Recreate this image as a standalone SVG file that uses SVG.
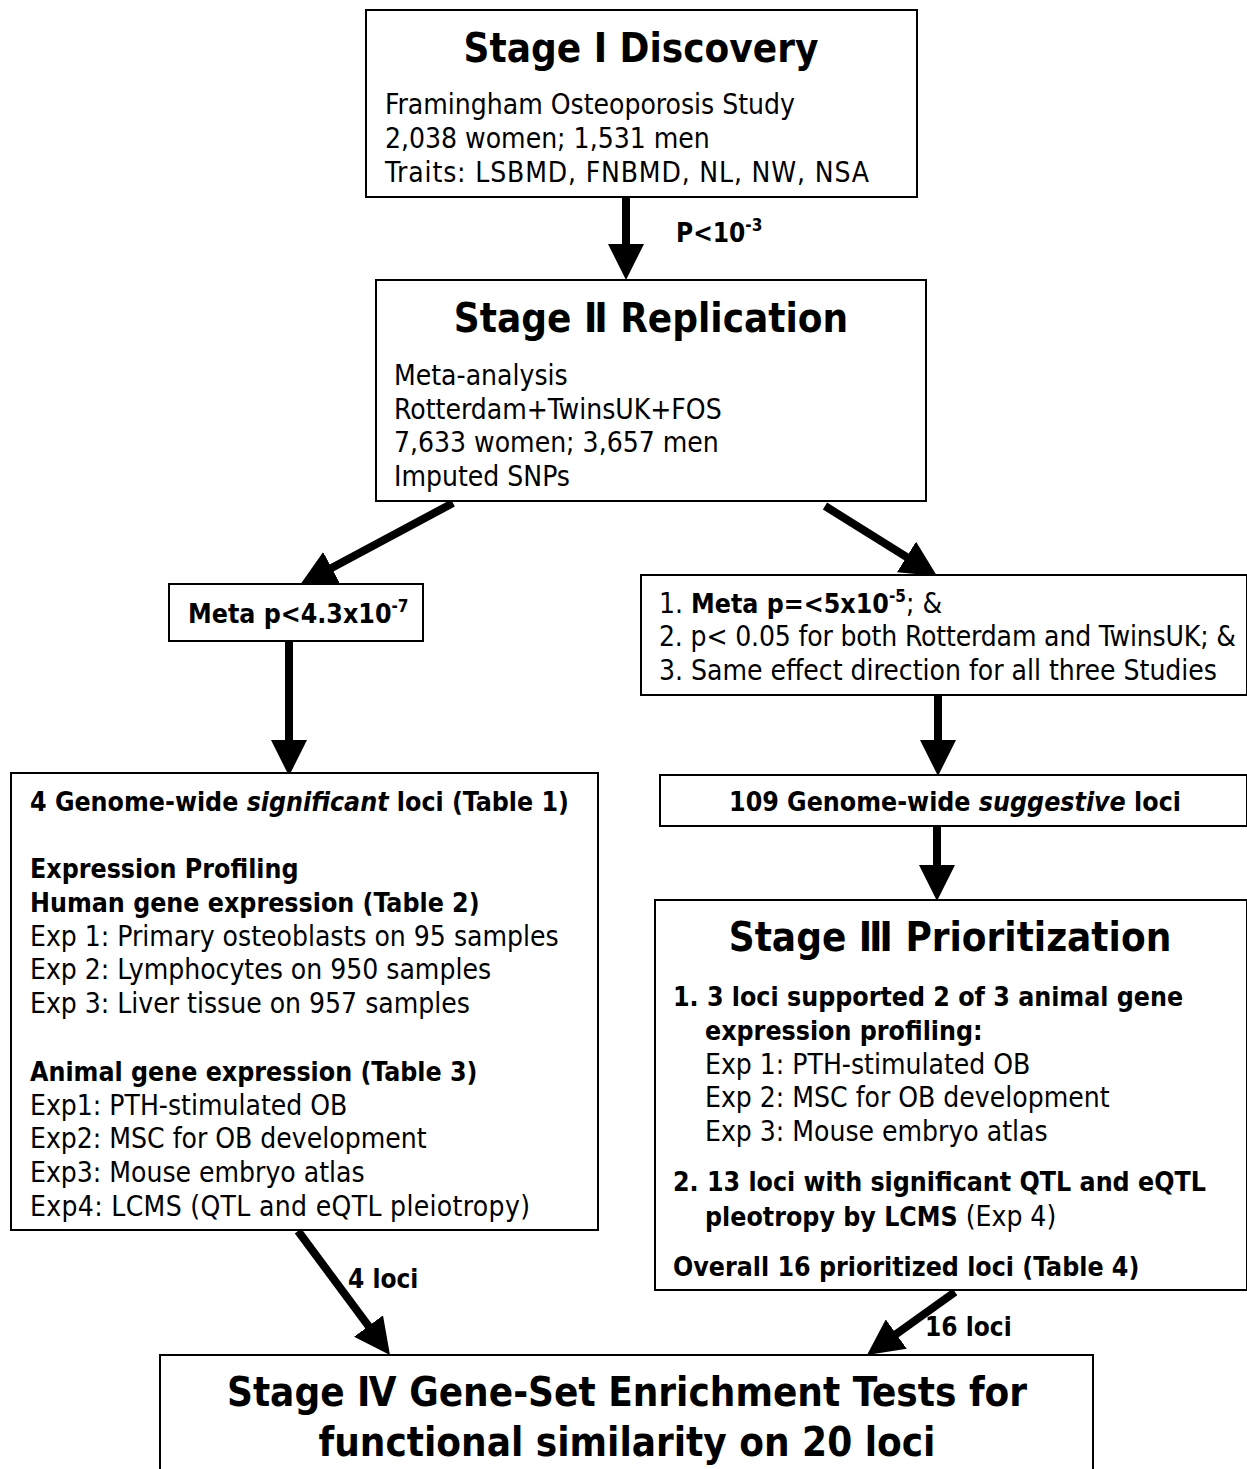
<svg xmlns="http://www.w3.org/2000/svg" width="1247" height="1469" viewBox="0 0 1247 1469">
<style>
.box{fill:#fff;stroke:#000;stroke-width:2}
.t{font-family:"DejaVu Sans Condensed","DejaVu Sans",sans-serif;font-size:28px;fill:#000}
.b{font-weight:bold;font-size:26.5px}
.title{font-family:"DejaVu Sans Condensed","DejaVu Sans",sans-serif;font-size:40px;font-weight:bold;fill:#000}
.lbl{font-family:"DejaVu Sans Condensed","DejaVu Sans",sans-serif;font-size:26px;font-weight:bold;fill:#000}
.c{stroke:#000;stroke-width:8;fill:none;marker-end:url(#ah)}
</style>
<defs>
<marker id="ah" markerUnits="userSpaceOnUse" markerWidth="36" markerHeight="36" viewBox="0 0 36 36" refX="6" refY="18" orient="auto">
<path d="M0,0 L36,18 L0,36 z" fill="#000"/>
</marker>
</defs>
<g id="connectors">
<line class="c" x1="626" y1="197" x2="626" y2="250"/>
<line class="c" x1="453" y1="503" x2="326.4" y2="570.8"/>
<line class="c" x1="825" y1="506" x2="911.6" y2="560.1"/>
<line class="c" x1="289" y1="641" x2="289" y2="746"/>
<line class="c" x1="938" y1="695" x2="938" y2="746"/>
<line class="c" x1="937" y1="826" x2="937" y2="871"/>
<line class="c" x1="298" y1="1231" x2="372.1" y2="1330.9"/>
<line class="c" x1="955" y1="1292" x2="891.4" y2="1337.5"/>
<text class="lbl" x="676" y="242">P&lt;10<tspan font-size="17" dy="-11">-3</tspan></text>
<text class="lbl" x="348" y="1288">4 loci</text>
<text class="lbl" x="925" y="1336">16 loci</text>
</g>
<g id="stage1">
<rect class="box" x="366" y="10" width="551" height="187"/>
<text class="title" x="641" y="62" text-anchor="middle">Stage I Discovery</text>
<text class="t" x="385" y="114">Framingham Osteoporosis Study</text>
<text class="t" x="385" y="148">2,038 women; 1,531 men</text>
<text class="t" x="385" y="182" textLength="484">Traits: LSBMD, FNBMD, NL, NW, NSA</text>
</g>
<g id="stage2">
<rect class="box" x="376" y="280" width="550" height="221"/>
<text class="title" x="651" y="332" text-anchor="middle">Stage Ⅱ Replication</text>
<text class="t" x="394" y="385">Meta-analysis</text>
<text class="t" x="394" y="419">Rotterdam+TwinsUK+FOS</text>
<text class="t" x="394" y="452">7,633 women; 3,657 men</text>
<text class="t" x="394" y="486">Imputed SNPs</text>
</g>
<g id="meta-sig">
<rect class="box" x="169" y="584" width="254" height="57"/>
<text class="t b" x="188" y="623" font-size="25">Meta p&lt;4.3x10<tspan font-size="17" dy="-11">-7</tspan></text>
</g>
<g id="meta-sug">
<rect class="box" x="641" y="575" width="606" height="120"/>
<text class="t" x="659" y="613">1. <tspan class="b">Meta p=&lt;5x10<tspan font-size="17" dy="-11">-5</tspan></tspan><tspan dy="11">; &amp;</tspan></text>
<text class="t" x="659" y="646" textLength="577">2. p&lt; 0.05 for both Rotterdam and TwinsUK; &amp;</text>
<text class="t" x="659" y="680">3. Same effect direction for all three Studies</text>
</g>
<g id="significant">
<rect class="box" x="11" y="773" width="587" height="457"/>
<text class="t b" x="30" y="811">4 Genome-wide <tspan font-style="italic">significant</tspan> loci (Table 1)</text>
<text class="t b" x="30" y="878">Expression Profiling</text>
<text class="t b" x="30" y="912">Human gene expression (Table 2)</text>
<text class="t" x="30" y="946">Exp 1: Primary osteoblasts on 95 samples</text>
<text class="t" x="30" y="979">Exp 2: Lymphocytes on 950 samples</text>
<text class="t" x="30" y="1013">Exp 3: Liver tissue on 957 samples</text>
<text class="t b" x="30" y="1081">Animal gene expression (Table 3)</text>
<text class="t" x="30" y="1115">Exp1: PTH-stimulated OB</text>
<text class="t" x="30" y="1148">Exp2: MSC for OB development</text>
<text class="t" x="30" y="1182">Exp3: Mouse embryo atlas</text>
<text class="t" x="30" y="1216" textLength="500">Exp4: LCMS (QTL and eQTL pleiotropy)</text>
</g>
<g id="suggestive">
<rect class="box" x="660" y="775" width="587" height="51"/>
<text class="t b" x="955" y="811" text-anchor="middle">109 Genome-wide <tspan font-style="italic">suggestive</tspan> loci</text>
</g>
<g id="stage3">
<rect class="box" x="655" y="900" width="592" height="390"/>
<text class="title" x="950" y="951" text-anchor="middle">Stage Ⅲ Prioritization</text>
<text class="t b" x="673" y="1006">1. 3 loci supported 2 of 3 animal gene</text>
<text class="t b" x="705" y="1040">expression profiling:</text>
<text class="t" x="705" y="1074">Exp 1: PTH-stimulated OB</text>
<text class="t" x="705" y="1107">Exp 2: MSC for OB development</text>
<text class="t" x="705" y="1141">Exp 3: Mouse embryo atlas</text>
<text class="t b" x="673" y="1191">2. 13 loci with significant QTL and eQTL</text>
<text class="t" x="705" y="1226"><tspan class="b">pleotropy by LCMS</tspan> (Exp 4)</text>
<text class="t b" x="673" y="1276">Overall 16 prioritized loci (Table 4)</text>
</g>
<g id="stage4">
<rect class="box" x="160" y="1355" width="933" height="120"/>
<text class="title" x="627" y="1406" text-anchor="middle">Stage Ⅳ Gene-Set Enrichment Tests for</text>
<text class="title" x="627" y="1456" text-anchor="middle">functional similarity on 20 loci</text>
</g>
</svg>
